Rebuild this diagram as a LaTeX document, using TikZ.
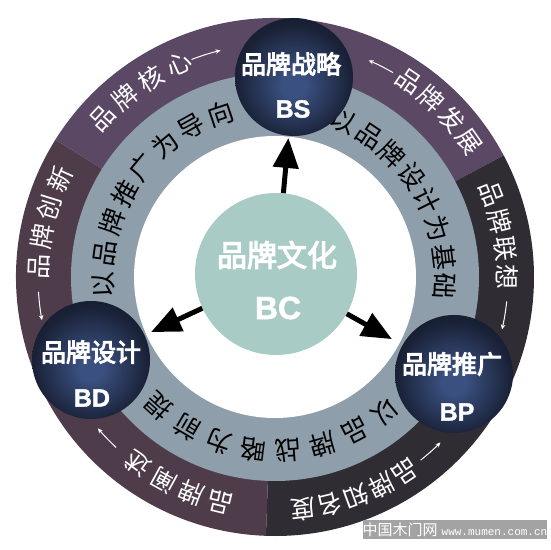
\documentclass[tikz,border=0pt]{standalone}
\usepackage{fontspec}
\usetikzlibrary{arrows.meta,calc}
\newfontfamily\cjk{Noto Sans CJK SC}
\newfontfamily\cjkh{Noto Sans CJK SC}[FakeBold=4]
\newfontfamily\latb{Liberation Sans}[BoldFeatures={FakeBold=1.5}]
\newfontfamily\mono{Liberation Mono}
\definecolor{segtop}{HTML}{5A4865}
\definecolor{segleft}{HTML}{4E3C4A}
\definecolor{segright}{HTML}{302C33}
\definecolor{ringgray}{HTML}{8E9EAA}
\definecolor{bcfill}{HTML}{A9CBC6}
\definecolor{ballc}{HTML}{3A5080}
\definecolor{ballm}{HTML}{1A2238}
\definecolor{balld}{HTML}{0D121D}
\definecolor{balle}{HTML}{090C14}
\definecolor{wmgray}{HTML}{A3A3A3}
\pgfdeclareradialshading{ballshade}{\pgfpoint{0bp}{-4bp}}{color(0bp)=(ballc); color(5bp)=(ballc); color(24bp)=(ballm); color(38bp)=(balld); color(50bp)=(balle)}
\newcommand\arctext[6]{%
  \foreach \ch [count=\i from 0] in {#6} {
    \pgfmathsetmacro\ang{#2-\i*#3}
    \node[#5, rotate=\ang-90] (#1-\i) at ([shift={(\ang:#4)}]C) {\ch};
  }}
\begin{document}
\begin{tikzpicture}[x=1pt,y=1pt,
  outtxt/.style={text=white, font=\cjk\fontsize{25}{25}\selectfont, inner sep=0},
  intxt/.style={text=black, font=\cjk\fontsize{26}{26}\selectfont, inner sep=0},
  ball/.style={circle, minimum size=118pt, inner sep=0, shading=ballshade},
  balltxt/.style={text=white, font=\cjkh\fontsize{25}{25}\selectfont, inner sep=0},
  balllat/.style={text=white, font=\latb\bfseries\fontsize{25}{25}\selectfont, inner sep=0},
  bigarr/.style={line width=5pt, -{Triangle[length=30pt,width=25pt]}},
  smarr/.style={white, line width=1pt, -{Stealth[length=5pt,width=4.5pt]}}]
\useasboundingbox (0,0) rectangle (550,550);
\coordinate (C) at (275,273);
% outer ring sectors
\fill[segtop] (C) -- ([shift={(28:259)}]C) arc[start angle=28,end angle=148,radius=259] -- cycle;
\fill[segleft] (C) -- ([shift={(148:259)}]C) arc[start angle=148,end angle=268,radius=259] -- cycle;
\fill[segright] (C) -- ([shift={(268:259)}]C) arc[start angle=268,end angle=388,radius=259] -- cycle;
\fill[ringgray] (C) circle[radius=204];
\fill[white] (C) circle[radius=141];
% center
\node[circle, fill=bcfill, minimum size=162pt, inner sep=0] (bc) at (276,276) {};
\node[text=white, font=\cjkh\fontsize{30}{30}\selectfont, inner sep=0] (bct) at (277,295) {品牌文化};
\node[text=white, font=\latb\bfseries\fontsize{32}{32}\selectfont, inner sep=0] (bcl) at (278,242) {BC};
% outer ring texts
\arctext{o1}{137.4}{7.7}{234}{outtxt}{品,牌,核,心}
\arctext{o2}{55.6}{6.9}{237}{outtxt}{品,牌,发,展}
\arctext{o3}{21}{7}{232}{outtxt}{品,牌,联,想}
\arctext{o4}{-56.3}{6.7}{234}{outtxt}{品,牌,知,名,度}
\arctext{o5}{-103.7}{7.5}{232}{outtxt}{品,牌,阐,述}
\arctext{o6}{177.5}{7.3}{236}{outtxt}{品,牌,创,新}
% small arrows
\draw[smarr] ([shift={(111:233)}]C) arc[start angle=111,end angle=103.5,radius=233];
\draw[smarr] ([shift={(60:236)}]C) arc[start angle=60,end angle=66.6,radius=236];
\draw[smarr] ([shift={(-6:233)}]C) arc[start angle=-6,end angle=-13,radius=233];
\draw[smarr] ([shift={(-51.5:234)}]C) arc[start angle=-51.5,end angle=-45,radius=234];
\draw[smarr] ([shift={(-133:233)}]C) arc[start angle=-133,end angle=-139.5,radius=233];
\draw[smarr] ([shift={(183.6:237)}]C) arc[start angle=183.6,end angle=190.5,radius=237];
% inner ring texts
\arctext{i1}{182.7}{10.6}{172}{intxt}{以,品,牌,推,广,为,导,向}
\arctext{i2}{66.2}{9.9}{170}{intxt}{以,品,牌,设,计,为,基,础}
\arctext{i3}{-50.8}{11.6}{174}{intxt}{以,品,牌,战,略,为,前,提}
% balls
\node[ball] (bs) at (294,473) {};
\node[ball] (bd) at (91,190) {};
\node[ball] (bp) at (454,176) {};
\node[balltxt] (bst) at (291,486) {品牌战略};
\node[balllat] (bsl) at (293,441) {BS};
\node[balltxt] (bdt) at (91,198) {品牌设计};
\node[balllat] (bdl) at (92,152) {BD};
\node[balltxt] (bpt) at (452,186) {品牌推广};
\node[balllat] (bpl) at (457,138) {BP};
% big arrows
\draw[bigarr, shorten >=2pt] (bc) -- (bs);
\draw[bigarr, shorten >=7pt] (bc) -- (bd);
\draw[bigarr, shorten >=12pt] (bc) -- (bp);
% watermark
\node[fill=wmgray, minimum width=170pt, minimum height=19pt, inner sep=0, text=white] (wm) at (455,20.5)
  {{\cjk\fontsize{15}{15}\selectfont 中国木门网}\hspace{4pt}{\mono\fontsize{11}{11}\selectfont www.mumen.com.cn}};
\end{tikzpicture}
\end{document}
